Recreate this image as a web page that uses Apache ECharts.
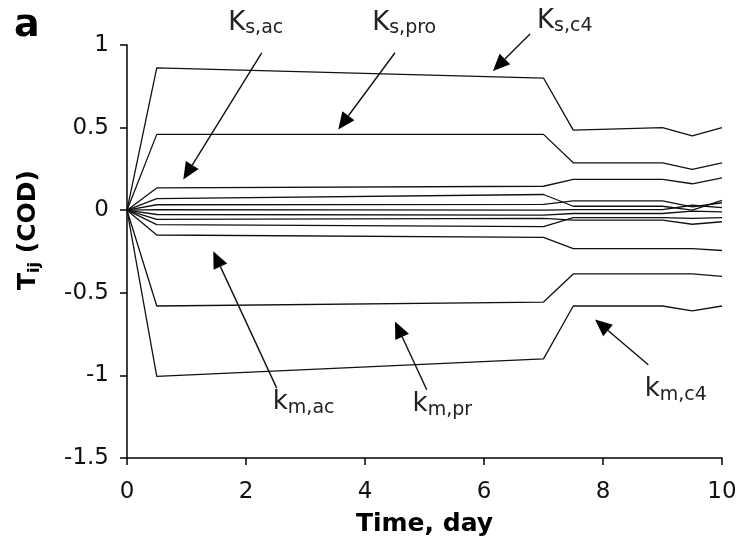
<!DOCTYPE html>
<html>
<head>
<meta charset="utf-8">
<script src="https://cdn.jsdelivr.net/npm/echarts@6/dist/echarts.min.js"></script>
<style>
  html, body { margin: 0; padding: 0; background: #fff; }
  #chart { width: 744px; height: 553px; }
</style>
</head>
<body>
<div id="chart"></div>
<script>
// Sampling times (day) at which the sensitivity curves change slope
const days = [0, 0.5, 7, 7.5, 9, 9.5, 10];

// Sensitivity T_ij of COD to each kinetic parameter
const tKsC4   = [0, 0.862, 0.80, 0.485, 0.50, 0.45, 0.50];
const tKsPro  = [0, 0.459, 0.459, 0.287, 0.287, 0.247, 0.287];
const tKsAc   = [0, 0.135, 0.145, 0.186, 0.186, 0.16, 0.196];
const tOther1 = [0, 0.07, 0.095, 0.024, 0.024, 0.0, 0.06];
const tOther2 = [0, 0.033, 0.035, 0.056, 0.056, 0.02, 0.045];
const tOther3 = [0, 0.003, 0.0, 0.004, 0.004, 0.03, 0.015];
const tOther4 = [0, -0.026, -0.03, -0.02, -0.02, -0.005, -0.01];
const tOther5 = [0, -0.056, -0.05, -0.06, -0.06, -0.085, -0.07];
const tOther6 = [0, -0.087, -0.10, -0.045, -0.045, -0.05, -0.045];
const tKmAc   = [0, -0.15, -0.164, -0.232, -0.232, -0.232, -0.244];
const tKmPr   = [0, -0.58, -0.556, -0.386, -0.386, -0.386, -0.40];
const tKmC4   = [0, -1.006, -0.90, -0.58, -0.58, -0.61, -0.58];

// Axis ticks
const xTicks = [0, 2, 4, 6, 8, 10];
const yTicks = [-1.5, -1, -0.5, 0, 0.5, 1];

// Callouts: parameter symbol, subscript, label anchor, arrow tail and tip (data units)
const callouts = [
  { main: 'K', sub: 's,ac',  at: [1.70, 1.133],  tail: [2.264, 0.953],  tip: [0.946, 0.186] },
  { main: 'K', sub: 's,pro', at: [4.12, 1.133],  tail: [4.504, 0.953],  tip: [3.551, 0.489] },
  { main: 'K', sub: 's,c4',  at: [6.89, 1.145],  tail: [6.773, 1.067],  tip: [6.15, 0.842] },
  { main: 'k', sub: 'm,ac',  at: [2.45, -1.165], tail: [2.516, -1.077], tip: [1.450, -0.248] },
  { main: 'k', sub: 'm,pr',  at: [4.80, -1.175], tail: [5.037, -1.087], tip: [4.504, -0.673] },
  { main: 'k', sub: 'm,c4',  at: [8.70, -1.085], tail: [8.761, -0.935], tip: [7.866, -0.662] }
];

const curves = {
  'Ks,c4': tKsC4, 'Ks,pro': tKsPro, 'Ks,ac': tKsAc,
  'p1': tOther1, 'p2': tOther2, 'p3': tOther3, 'p4': tOther4, 'p5': tOther5, 'p6': tOther6,
  'km,ac': tKmAc, 'km,pr': tKmPr, 'km,c4': tKmC4
};

const FONT = '"DejaVu Sans", Verdana, sans-serif';
const chart = echarts.init(document.getElementById('chart'), null, { renderer: 'canvas' });

const series = Object.keys(curves).map(function (name) {
  return {
    name: name,
    type: 'line',
    symbol: 'none',
    animation: false,
    lineStyle: { color: '#111', width: 1.3 },
    data: days.map(function (d, i) { return [d, curves[name][i]]; })
  };
});

const axisCommon = {
  type: 'value',
  splitLine: { show: false },
  axisLine: { show: true, onZero: false, lineStyle: { color: '#000', width: 1.5 } },
  axisTick: { show: true, inside: false, length: 7, lineStyle: { color: '#000', width: 1.5 } },
  axisLabel: { color: '#111', fontFamily: FONT, fontSize: 23 }
};

chart.setOption({
  backgroundColor: '#fff',
  animation: false,
  grid: { left: 127, right: 22, top: 45, bottom: 95 },
  xAxis: Object.assign({}, axisCommon, {
    min: xTicks[0], max: xTicks[xTicks.length - 1], interval: xTicks[1] - xTicks[0],
    axisLabel: Object.assign({}, axisCommon.axisLabel, { margin: 23 }),
    name: 'Time, day',
    nameLocation: 'middle',
    nameGap: 54,
    nameTextStyle: { color: '#000', fontFamily: FONT, fontSize: 25, fontWeight: 'bold' }
  }),
  yAxis: Object.assign({}, axisCommon, {
    min: yTicks[0], max: yTicks[yTicks.length - 1], interval: yTicks[1] - yTicks[0],
    axisLabel: Object.assign({}, axisCommon.axisLabel, { margin: 18 })
  }),
  series: series
});

// Arrows and parameter labels placed through the axes' scales
function px(p) { return chart.convertToPixel({ gridIndex: 0 }, p); }

const graphics = [];
const HEAD_LEN = 17, HEAD_HALF = 7.5;
callouts.forEach(function (c) {
  const a = px(c.tail), b = px(c.tip);
  const dx = b[0] - a[0], dy = b[1] - a[1];
  const len = Math.sqrt(dx * dx + dy * dy);
  const ux = dx / len, uy = dy / len;
  const bx = b[0] - ux * HEAD_LEN, by = b[1] - uy * HEAD_LEN;
  graphics.push({
    type: 'line', silent: true,
    shape: { x1: a[0], y1: a[1], x2: bx, y2: by },
    style: { stroke: '#111', lineWidth: 1.4 }
  });
  graphics.push({
    type: 'polygon', silent: true,
    shape: { points: [[b[0], b[1]], [bx - uy * HEAD_HALF, by + ux * HEAD_HALF], [bx + uy * HEAD_HALF, by - ux * HEAD_HALF]] },
    style: { fill: '#000' }
  });
  const l = px(c.at);
  graphics.push({
    type: 'text', silent: true, x: l[0], y: l[1],
    style: {
      text: '{m|' + c.main + '}{s|' + c.sub + '}',
      align: 'left', verticalAlign: 'middle',
      rich: {
        m: { fontFamily: FONT, fontSize: 26, lineHeight: 30, fill: '#222' },
        s: { fontFamily: FONT, fontSize: 19, lineHeight: 18, verticalAlign: 'bottom', fill: '#222' }
      }
    }
  });
});

// Vertical axis title with subscript, read bottom to top
graphics.push({
  type: 'text', silent: true, x: 28, y: 230, rotation: Math.PI / 2,
  style: {
    text: '{m|T}{s|ij}{m| (COD)}',
    align: 'center', verticalAlign: 'middle',
    rich: {
      m: { fontFamily: FONT, fontSize: 25, fontWeight: 'bold', lineHeight: 30, fill: '#000' },
      s: { fontFamily: FONT, fontSize: 16, fontWeight: 'bold', lineHeight: 14, verticalAlign: 'bottom', fill: '#000' }
    }
  }
});

// Panel letter
graphics.push({
  type: 'text', silent: true, left: 14, top: 7,
  style: { text: 'a', fontFamily: FONT, fontSize: 38, fontWeight: 'bold', fill: '#000' }
});

chart.setOption({ graphic: graphics });
</script>
</body>
</html>
